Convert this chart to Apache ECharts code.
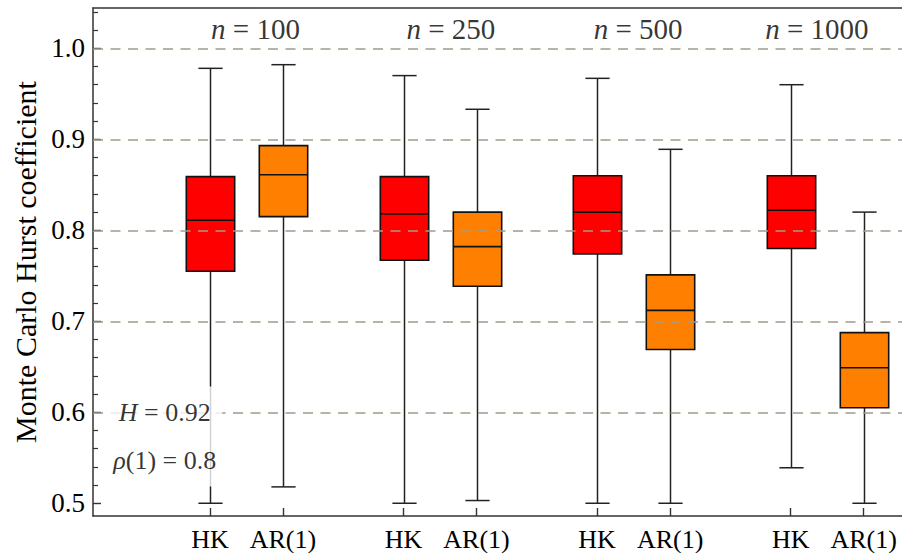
<!DOCTYPE html>
<html>
<head>
<meta charset="utf-8">
<script src="https://cdn.jsdelivr.net/npm/echarts@6/dist/echarts.min.js"></script>
<style>html,body{margin:0;padding:0;background:#fff}#c{width:902px;height:553px}</style>
</head>
<body>
<div id="c"></div>
<script>
// ---- data ----
var sampleSizes = ['100', '250', '500', '1000'];
var methods = ['HK', 'AR(1)'];
// [lowWhisker, Q1, median, Q3, highWhisker]
var hkStats = [
  [0.500, 0.755, 0.811, 0.859, 0.978],
  [0.500, 0.767, 0.818, 0.859, 0.970],
  [0.500, 0.774, 0.820, 0.860, 0.967],
  [0.539, 0.780, 0.822, 0.860, 0.960]
];
var arStats = [
  [0.518, 0.815, 0.861, 0.893, 0.982],
  [0.503, 0.7385, 0.782, 0.820, 0.933],
  [0.500, 0.669, 0.712, 0.751, 0.889],
  [0.500, 0.605, 0.649, 0.6875, 0.820]
];
var yMajorTicks = [0.5, 0.6, 0.7, 0.8, 0.9, 1.0];
var yMinorTicks = [0.52, 0.54, 0.56, 0.58, 0.62, 0.64, 0.66, 0.68, 0.72, 0.74, 0.76, 0.78,
                   0.82, 0.84, 0.86, 0.88, 0.92, 0.94, 0.96, 0.98, 1.02, 1.04];
var gridValues = [0.6, 0.7, 0.8, 0.9, 1.0];
var paramText = ['0.92', '0.8'];

// ---- layout constants ----
var groupPos = [1, 2, 3, 4];
var offset = 0.1886;
var nLabelShift = [0.0465, 0.0558, 0.023, -0.053];
var xMin = 0.2072, xMax = 4.3866, yMin = 0.486, yMax = 1.0443;
var FONT = "'Liberation Serif','Times New Roman',serif";

var hkPos = groupPos.map(function (g) { return g - offset; });
var arPos = groupPos.map(function (g) { return g + offset; });
var allPos = [];
groupPos.forEach(function (g, i) { allPos.push(hkPos[i], arPos[i]); });

function seriesData(pos, stats) {
  return stats.map(function (s, i) { return [pos[i]].concat(s); });
}

function renderBox(params, api) {
  var x = api.value(0);
  var lo = api.coord([x, api.value(1)]);
  var q1 = api.coord([x, api.value(2)]);
  var md = api.coord([x, api.value(3)]);
  var q3 = api.coord([x, api.value(4)]);
  var hi = api.coord([x, api.value(5)]);
  var bw = api.size([0.25, 0])[0];
  var half = bw / 2, cap = bw / 4;
  var cx = Math.round(lo[0]) + 0.5;
  var wStyle = { stroke: '#222', lineWidth: 1.5 };
  var color = api.visual('color');
  return {
    type: 'group',
    children: [
      { type: 'line', shape: { x1: cx, y1: lo[1], x2: cx, y2: q1[1] }, style: wStyle },
      { type: 'line', shape: { x1: cx, y1: q3[1], x2: cx, y2: hi[1] }, style: wStyle },
      { type: 'line', shape: { x1: cx - cap, y1: lo[1], x2: cx + cap, y2: lo[1] }, style: wStyle },
      { type: 'line', shape: { x1: cx - cap, y1: hi[1], x2: cx + cap, y2: hi[1] }, style: wStyle },
      { type: 'rect', shape: { x: cx - half, y: q3[1], width: 2 * half, height: q1[1] - q3[1] },
        style: { fill: color, stroke: '#111', lineWidth: 1.6 } },
      { type: 'line', shape: { x1: cx - half, y1: md[1], x2: cx + half, y2: md[1] },
        style: { stroke: '#111', lineWidth: 1.6 } }
    ]
  };
}

function nearestLabel(v) {
  var best = 0, d = 1e9;
  allPos.forEach(function (p, i) { if (Math.abs(p - v) < d) { d = Math.abs(p - v); best = i; } });
  return methods[best % 2];
}

var chart = echarts.init(document.getElementById('c'), null, { renderer: 'svg' });
chart.setOption({
  animation: false,
  backgroundColor: '#fff',
  textStyle: { fontFamily: FONT, color: '#000' },
  grid: { left: 93, right: 0, top: 8, bottom: 37 },
  xAxis: [{
    type: 'value', min: xMin, max: xMax, position: 'bottom',
    axisLine: { show: true, lineStyle: { color: '#333', width: 1.5 } },
    axisTick: { show: true, inside: true, length: 8, customValues: allPos, lineStyle: { color: '#333', width: 1.4 } },
    axisLabel: { show: true, customValues: allPos, formatter: function (v) { return nearestLabel(v); },
      fontFamily: FONT, fontSize: 26, color: '#000', margin: 10 },
    splitLine: { show: false }
  }, {
    type: 'value', min: xMin, max: xMax, position: 'top',
    axisLine: { show: true, lineStyle: { color: '#333', width: 1.5 } },
    axisTick: { show: false }, axisLabel: { show: false }, splitLine: { show: false }
  }],
  yAxis: [{
    type: 'value', min: yMin, max: yMax, position: 'left',
    name: 'Monte Carlo Hurst coefficient', nameLocation: 'middle', nameRotate: 90, nameGap: 52,
    nameTextStyle: { fontFamily: FONT, fontSize: 30, color: '#000' },
    axisLine: { show: true, lineStyle: { color: '#333', width: 1.5 } },
    axisTick: { show: true, inside: true, length: 8, customValues: yMajorTicks, lineStyle: { color: '#333', width: 1.4 } },
    axisLabel: { show: true, customValues: yMajorTicks, formatter: function (v) { return v.toFixed(1); },
      fontFamily: FONT, fontSize: 27, color: '#000', margin: 8 },
    splitLine: { show: false }
  }, {
    type: 'value', min: yMin, max: yMax, position: 'left', offset: 0,
    axisLine: { show: false },
    axisTick: { show: true, inside: true, length: 5, customValues: yMinorTicks, lineStyle: { color: '#333', width: 1.2 } },
    axisLabel: { show: false }, splitLine: { show: false }
  }],
  series: [{
    type: 'line', data: [], z: 1, silent: true,
    markLine: {
      silent: true, symbol: 'none', label: { show: false },
      lineStyle: { color: '#a39a8b', width: 1.5, type: [10, 7.5] },
      data: gridValues.map(function (v) { return { yAxis: v }; })
    }
  }, {
    name: methods[0], type: 'custom', z: 3, renderItem: renderBox,
    itemStyle: { color: '#ff0000' },
    encode: { x: 0, y: [1, 2, 3, 4, 5] },
    data: seriesData(hkPos, hkStats)
  }, {
    name: methods[1], type: 'custom', z: 3, renderItem: renderBox,
    itemStyle: { color: '#ff8000' },
    encode: { x: 0, y: [1, 2, 3, 4, 5] },
    data: seriesData(arPos, arStats)
  }, {
    type: 'scatter', z: 5, symbolSize: 0, silent: true,
    data: groupPos.map(function (g, i) { return [g + nLabelShift[i], 1.0207, sampleSizes[i]]; }),
    label: {
      show: true, position: 'inside',
      formatter: function (p) { return '{i|n}{r| = ' + p.data[2] + '}'; },
      rich: {
        i: { fontFamily: FONT, fontSize: 29, fontStyle: 'italic', color: '#000' },
        r: { fontFamily: FONT, fontSize: 29, color: '#000' }
      }
    }
  }, {
    type: 'scatter', z: 6, symbolSize: 0, silent: true,
    data: [[0.578, 0.5734]],
    label: {
      show: true, position: 'inside', backgroundColor: '#fff', padding: [2, 6],
      formatter: function () { return '{i|H}{r| = ' + paramText[0] + '}\n{i|ρ}{r|(1) = ' + paramText[1] + '}'; },
      rich: {
        i: { fontFamily: FONT, fontSize: 26, fontStyle: 'italic', color: '#000', lineHeight: 48 },
        r: { fontFamily: FONT, fontSize: 26, color: '#000', lineHeight: 48 }
      }
    }
  }]
});
</script>
</body>
</html>
